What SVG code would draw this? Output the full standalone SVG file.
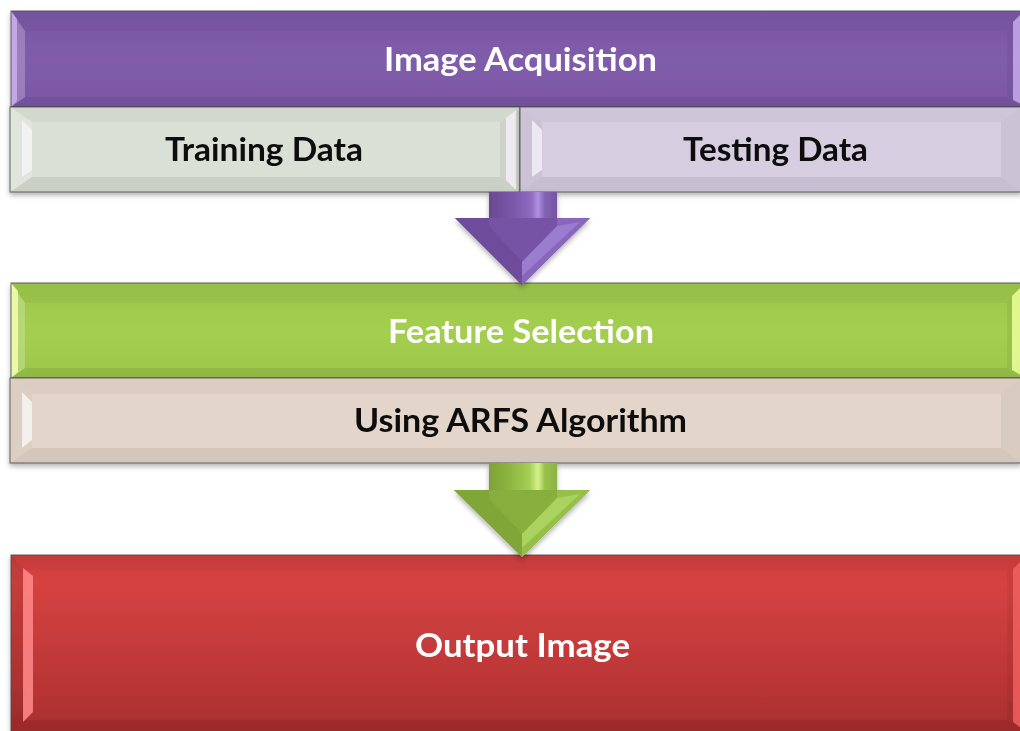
<svg xmlns="http://www.w3.org/2000/svg" width="1020" height="731" viewBox="0 0 1020 731">
  <defs>
    <filter id="shadow" x="-5%" y="-10%" width="110%" height="130%">
      <feDropShadow dx="0" dy="3" stdDeviation="2.5" flood-color="#000" flood-opacity="0.3"/>
    </filter>
    <linearGradient id="gPurple" x1="0" y1="0" x2="0" y2="1">
      <stop offset="0" stop-color="#7A57A4"/>
      <stop offset="0.5" stop-color="#805CAB"/>
      <stop offset="1" stop-color="#7B58A6"/>
    </linearGradient>
    <linearGradient id="gGreen" x1="0" y1="0" x2="0" y2="1">
      <stop offset="0" stop-color="#9CC64A"/>
      <stop offset="0.5" stop-color="#A3CE4F"/>
      <stop offset="1" stop-color="#9DC74B"/>
    </linearGradient>
    <linearGradient id="gRed" x1="0" y1="0" x2="0" y2="1">
      <stop offset="0" stop-color="#CE3D3D"/>
      <stop offset="0.15" stop-color="#D64242"/>
      <stop offset="0.7" stop-color="#B93535"/>
      <stop offset="1" stop-color="#A02B2B"/>
    </linearGradient>
    <linearGradient id="gShaftP" x1="0" y1="0" x2="1" y2="0">
      <stop offset="0" stop-color="#6A4994"/>
      <stop offset="0.35" stop-color="#7A57A8"/>
      <stop offset="0.62" stop-color="#8F6BC0"/>
      <stop offset="0.72" stop-color="#B08EE0"/>
      <stop offset="0.82" stop-color="#8462B6"/>
      <stop offset="1" stop-color="#7654A4"/>
    </linearGradient>
    <linearGradient id="gShaftG" x1="0" y1="0" x2="1" y2="0">
      <stop offset="0" stop-color="#7EA236"/>
      <stop offset="0.3" stop-color="#8DB540"/>
      <stop offset="0.6" stop-color="#A6CF57"/>
      <stop offset="0.72" stop-color="#D4F28A"/>
      <stop offset="0.82" stop-color="#9AC34C"/>
      <stop offset="1" stop-color="#8AB23F"/>
    </linearGradient>
    <style>
      .lbl { font-family: Lato, "Open Sans", "Liberation Sans", sans-serif; font-weight: 700; font-size: 33px; text-anchor: middle; }
      .light { fill: #FFFFFF; }
      .dark { fill: #0D0D0D; }
      .edge { fill: none; stroke: #4A4A4A; stroke-opacity: 0.7; stroke-width: 1.2; }
      .bvL { fill: #FFFFFF; fill-opacity: 0.22; }
      .bvR { fill: #000000; fill-opacity: 0.05; }
      .bvT { fill: #000000; fill-opacity: 0.035; }
      .bvB { fill: #000000; fill-opacity: 0.07; }
    </style>
  </defs>

  <rect width="1020" height="731" fill="#FFFFFF"/>

  <!-- Image Acquisition -->
  <g id="image-acquisition" filter="url(#shadow)">
    <rect x="11" y="11" width="1010" height="96" fill="url(#gPurple)"/>
    <polygon class="bvT" points="11,11 1021,11 1007,31 25,31"/>
    <polygon class="bvB" points="11,107 25,97 1007,97 1021,107"/>
    <polygon class="bvL" points="11,11 25,31 25,97 11,107"/>
    <polygon points="11,11 17,19 17,101 11,107" fill="#D2B4F6" fill-opacity="0.75"/>
    <polygon class="bvR" points="1021,11 1021,107 1007,97 1007,31"/>
    <polygon points="1013,22 1021,14 1021,104 1013,100" fill="#D2B4F6" fill-opacity="0.75"/>
    <rect class="edge" x="11" y="11" width="1010" height="96"/>
    <text class="lbl light" x="520.5" y="71" textLength="273" lengthAdjust="spacingAndGlyphs">Image Acquisition</text>
  </g>

  <!-- Training Data -->
  <g id="training-data" filter="url(#shadow)">
    <rect x="10" y="107" width="510" height="85" fill="#DBE0D7"/>
    <polygon class="bvT" points="10,107 520,107 500,122 32,122"/>
    <polygon class="bvB" points="10,192 32,177 500,177 520,192"/>
    <polygon points="10,107 32,122 32,177 10,192" fill="#FFFFFF" fill-opacity="0.15"/>
    <polygon points="22,120 32,130 32,170 22,177" fill="#F4F4F6" fill-opacity="0.85"/>
    <polygon points="520,107 520,192 500,177 500,122" fill="#000000" fill-opacity="0.06"/>
    <polygon points="506,118 516,110 516,190 506,180" fill="#F2F0F6" fill-opacity="0.85"/>
    <rect class="edge" x="10" y="107" width="510" height="85"/>
    <text class="lbl dark" x="264" y="161" textLength="198" lengthAdjust="spacingAndGlyphs">Training Data</text>
  </g>

  <!-- Testing Data -->
  <g id="testing-data" filter="url(#shadow)">
    <rect x="520" y="107" width="501" height="85" fill="#D6CDE1"/>
    <polygon class="bvT" points="520,107 1021,107 1001,122 542,122"/>
    <polygon class="bvB" points="520,192 542,177 1001,177 1021,192"/>
    <polygon points="520,107 542,122 542,177 520,192" fill="#000000" fill-opacity="0.05"/>
    <polygon points="532,120 542,130 542,170 532,177" fill="#F2EEF8" fill-opacity="0.85"/>
    <polygon points="1021,107 1021,192 1001,177 1001,122" fill="#000000" fill-opacity="0.05"/>
    <rect class="edge" x="520" y="107" width="501" height="85"/>
    <text class="lbl dark" x="775.5" y="161" textLength="185" lengthAdjust="spacingAndGlyphs">Testing Data</text>
  </g>

  <!-- Feature Selection -->
  <g id="feature-selection" filter="url(#shadow)">
    <rect x="11" y="283" width="1010" height="95" fill="url(#gGreen)"/>
    <polygon class="bvT" points="11,283 1021,283 1007,303 25,303"/>
    <polygon class="bvB" points="11,378 25,368 1007,368 1021,378"/>
    <polygon class="bvL" points="11,283 25,303 25,368 11,378"/>
    <polygon points="11,283 18,291 18,372 11,378" fill="#F2FFB0" fill-opacity="0.85"/>
    <polygon class="bvR" points="1021,283 1021,378 1007,368 1007,303"/>
    <polygon points="1012,296 1021,287 1021,375 1012,370" fill="#EEFF9A" fill-opacity="0.85"/>
    <rect class="edge" x="11" y="283" width="1010" height="95"/>
    <text class="lbl light" x="521" y="343" textLength="266" lengthAdjust="spacingAndGlyphs">Feature Selection</text>
  </g>

  <!-- Using ARFS Algorithm -->
  <g id="arfs-algorithm" filter="url(#shadow)">
    <rect x="10" y="378" width="1011" height="85" fill="#E3D5CA"/>
    <polygon class="bvT" points="10,378 1021,378 1001,394 32,394"/>
    <polygon class="bvB" points="10,463 32,448 1001,448 1021,463"/>
    <polygon points="10,378 32,394 32,448 10,463" fill="#000000" fill-opacity="0.03"/>
    <polygon points="22,392 32,402 32,440 22,448" fill="#F5F3EE" fill-opacity="0.9"/>
    <polygon points="1021,378 1021,463 1001,448 1001,394" fill="#000000" fill-opacity="0.05"/>
    <rect class="edge" x="10" y="378" width="1011" height="85"/>
    <text class="lbl dark" x="520.5" y="432" textLength="333" lengthAdjust="spacingAndGlyphs">Using ARFS Algorithm</text>
  </g>

  <!-- Output Image -->
  <g id="output-image" filter="url(#shadow)">
    <rect x="11" y="555" width="1010" height="190" fill="url(#gRed)"/>
    <polygon class="bvT" points="11,555 1021,555 1007,570 25,570"/>
    <polygon class="bvB" points="11,731 25,720 1007,720 1021,731"/>
    <polygon points="11,555 25,570 25,720 11,731" fill="#000000" fill-opacity="0.08"/>
    <polygon points="23,568 33,576 33,712 23,722" fill="#FF8A8A" fill-opacity="0.85"/>
    <polygon class="bvR" points="1021,555 1021,731 1007,720 1007,570"/>
    <polygon points="1013,569 1021,561 1021,728 1013,722" fill="#F06060" fill-opacity="0.85"/>
    <rect class="edge" x="11" y="555" width="1010" height="190"/>
    <text class="lbl light" x="522.5" y="657" textLength="215" lengthAdjust="spacingAndGlyphs">Output Image</text>
  </g>

  <!-- connectors -->
  <g id="connectors">
    <g id="arrow-1" filter="url(#shadow)">
      <rect x="489" y="192" width="68" height="27" fill="url(#gShaftP)"/>
      <polygon points="455,218 590,218 522,285" fill="#7653A5"/>
      <polygon points="455,218 489,218 489,226 522,262 522,285" fill="#6E4C9B"/>
      <polygon points="590,218 557,218 557,226 522,262 522,285" fill="#8866BB"/>
      <polygon points="557,226 580,222 522,276 522,262" fill="#A584D6" fill-opacity="0.7"/>
    </g>
    <g id="arrow-2" filter="url(#shadow)">
      <rect x="489" y="463" width="68" height="28" fill="url(#gShaftG)"/>
      <polygon points="454,490 590,490 522,557" fill="#88AF3E"/>
      <polygon points="454,490 489,490 489,498 522,534 522,557" fill="#80A638"/>
      <polygon points="590,490 557,490 557,498 522,534 522,557" fill="#96BE4A"/>
      <polygon points="557,498 580,494 522,548 522,534" fill="#B4DA66" fill-opacity="0.7"/>
    </g>
  </g>
</svg>
